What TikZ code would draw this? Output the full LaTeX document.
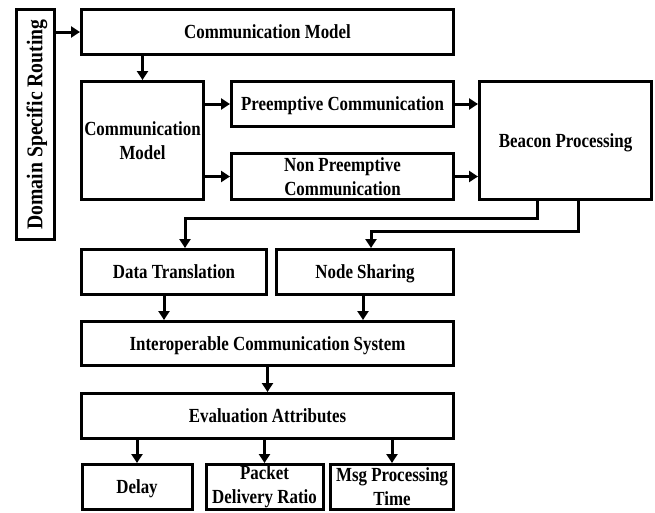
\documentclass[tikz,border=0pt]{standalone}
\usepackage{fontspec}
\setmainfont{Liberation Serif}[FakeStretch=0.845]
\newfontfamily\dsrfont{Liberation Serif}[FakeStretch=0.875]
\usetikzlibrary{arrows.meta}
\begin{document}
\begin{tikzpicture}[x=1pt,y=-1pt,
  box/.style={draw, line width=3pt, align=center, inner sep=0pt,
    font=\fontsize{20}{24}\selectfont\bfseries},
  one/.style={text height=13.5pt, text depth=0pt},
  arr/.style={line width=3pt, -{Triangle[length=9pt,width=11pt]}}]
\useasboundingbox (0,0) rectangle (655,512);
% nodes
\node[box, one, rotate=90, minimum width=230pt, minimum height=38pt,
  font=\fontsize{22.5}{25}\dsrfont\bfseries] (dsr) at (35.5,124.5) {Domain Specific Routing};
\node[box, one, minimum width=372pt, minimum height=45pt] (cm1) at (267.5,32) {Communication Model};
\node[box, minimum width=122pt, minimum height=118pt] (cm2) at (142.5,140.5) {Communication\\Model};
\node[box, one, minimum width=222pt, minimum height=45pt] (pre) at (342.5,104) {Preemptive Communication};
\node[box, minimum width=222pt, minimum height=46pt] (npre) at (342.5,176.5) {Non Preemptive\\Communication};
\node[box, one, minimum width=172pt, minimum height=118pt] (beacon) at (565.5,140.5) {Beacon Processing};
\node[box, one, minimum width=185pt, minimum height=45pt] (dt) at (174,272) {Data Translation};
\node[box, one, minimum width=177pt, minimum height=45pt] (ns) at (365,272) {Node Sharing};
\node[box, one, minimum width=372pt, minimum height=44pt] (ics) at (267.5,343.5) {Interoperable Communication System};
\node[box, one, minimum width=372pt, minimum height=45pt] (ea) at (267.5,416) {Evaluation Attributes};
\node[box, one, minimum width=110pt, minimum height=45pt] (delay) at (137,487) {Delay};
\node[box, minimum width=117pt, minimum height=45pt] (pdr) at (264.5,487) {Packet\\Delivery Ratio};
\node[box, minimum width=123pt, minimum height=45pt] (msg) at (392,487) {Msg Processing\\Time};
% helper coordinates
\coordinate (h1) at (0,218);
\coordinate (h2) at (0,231);
\coordinate (bo1) at ([xshift=-28.5pt]beacon.south);
\coordinate (bo2) at ([xshift=12.5pt]beacon.south);
\coordinate (dtin) at ([xshift=11pt]dt.north);
\coordinate (nsin) at ([xshift=6pt]ns.north);
\coordinate (dtout) at ([xshift=-10pt]dt.south);
\coordinate (nsout) at ([xshift=-2pt]ns.south);
% connectors
\draw[arr] (cm1.west -| dsr.south) -- (cm1.west);
\draw[arr] (cm1.south -| cm2.north) -- (cm2.north);
\draw[arr] (cm2.east |- pre.west) -- (pre.west);
\draw[arr] (cm2.east |- npre.west) -- (npre.west);
\draw[arr] (pre.east) -- (pre.east -| beacon.west);
\draw[arr] (npre.east) -- (npre.east -| beacon.west);
\draw[arr] (bo1) |- (dtin |- h1) -- (dtin);
\draw[arr] (bo2) |- (nsin |- h2) -- (nsin);
\draw[arr] (dtout) -- (dtout |- ics.north);
\draw[arr] (nsout) -- (nsout |- ics.north);
\draw[arr] (ics.south) -- (ea.north);
\draw[arr] (ea.south -| delay.north) -- (delay.north);
\draw[arr] (ea.south -| pdr.north) -- (pdr.north);
\draw[arr] (ea.south -| msg.north) -- (msg.north);
\end{tikzpicture}
\end{document}
